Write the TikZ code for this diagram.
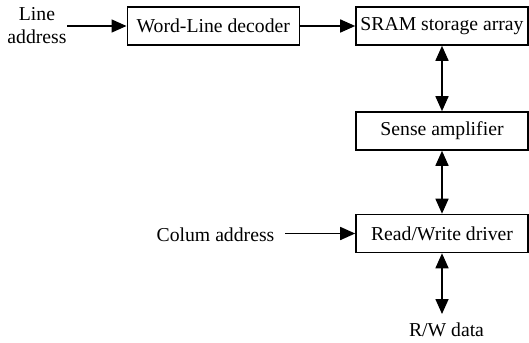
\documentclass[tikz,border=0pt]{standalone}
\usepackage{fontspec}
\setmainfont{Liberation Serif}
\usetikzlibrary{arrows.meta}
\begin{document}
\begin{tikzpicture}[x=1pt,y=-1pt,
  every node/.style={font=\fontsize{19.7}{23}\selectfont},
  blk/.style={draw, line width=1.6pt, minimum width=172pt, minimum height=38pt, inner sep=0pt},
  lbl/.style={inner sep=0pt, align=center},
  tip/.tip={Triangle[length=15pt,width=13pt]},
  arr/.style={line width=1.6pt, -tip},
  darr/.style={line width=1.6pt, tip-tip}]
\useasboundingbox (0,0) rectangle (529,342);
\node[blk] (wl) at (213.3,26) {Word-Line decoder};
\node[blk] (sram) at (442,26) {SRAM storage array};
\node[blk] (sense) at (442,131) {Sense amplifier};
\node[blk] (rw) at (442,233.5) {Read/Write driver};
\node[lbl] (la) at (37,26) {Line\\address};
\node[lbl, anchor=base] (ca) at (215.5,241.5) {Colum address};
\node[lbl, anchor=base] (rwd) at (446.5,336.7) {R/W data};
\coordinate (las) at (67,26);
\coordinate (cas) at (285,233.5);
\coordinate (rwe) at (442,314);
\draw[arr] (las) -- (wl.west);
\draw[arr] (wl.east) -- (sram.west);
\draw[darr] (sram.south) -- (sense.north);
\draw[darr] (sense.south) -- (rw.north);
\draw[arr] (cas) -- (rw.west);
\draw[darr] (rw.south) -- (rwe);
\end{tikzpicture}
\end{document}
